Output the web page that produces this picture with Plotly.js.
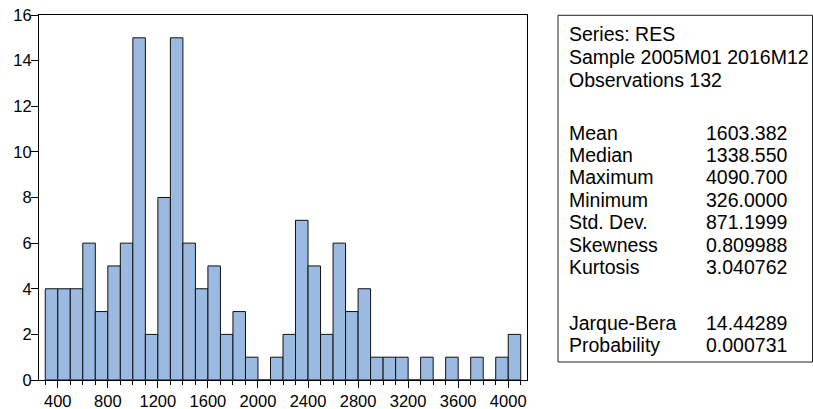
<!DOCTYPE html>
<html>
<head>
<meta charset="utf-8">
<script src="https://cdn.plot.ly/plotly-3.0.1.min.js"></script>
<style>
  html, body { margin: 0; padding: 0; background: #fff; }
  #chart { width: 813px; height: 409px; }
</style>
</head>
<body>
<div id="chart"></div>
<script>
// Histogram bins (lower edge of each 100-wide bin) and frequencies
const binLow = [300, 400, 500, 600, 700, 800, 900, 1000, 1100, 1200, 1300, 1400, 1500, 1600, 1700, 1800, 1900, 2000, 2100, 2200, 2300, 2400, 2500, 2600, 2700, 2800, 2900, 3000, 3100, 3200, 3300, 3400, 3500, 3600, 3700, 3800, 3900, 4000];
const counts = [4, 4, 4, 6, 3, 5, 6, 15, 2, 8, 15, 6, 4, 5, 2, 3, 1, 0, 1, 2, 7, 5, 2, 6, 3, 4, 1, 1, 1, 0, 1, 0, 1, 0, 1, 0, 1, 2];
const binWidth = 100;

// Tick labels
const xTickVals = [400, 800, 1200, 1600, 2000, 2400, 2800, 3200, 3600, 4000];
const xTickText = ["400", "800", "1200", "1600", "2000", "2400", "2800", "3200", "3600", "4000"];
const yTickVals = [0, 2, 4, 6, 8, 10, 12, 14, 16];
const yTickText = ["0", "2", "4", "6", "8", "10", "12", "14", "16"];

// Statistics panel
const headerLines = ["Series: RES", "Sample 2005M01 2016M12", "Observations 132"];
const statNames = ["Mean", "Median", "Maximum", "Minimum", "Std. Dev.", "Skewness", "Kurtosis"];
const statValues = ["1603.382", "1338.550", "4090.700", "326.0000", "871.1999", "0.809988", "3.040762"];
const testNames = ["Jarque-Bera", "Probability"];
const testValues = ["14.44289", "0.000731"];

// Layout geometry (pixels)
const W = 813, H = 409;
const plotL = 39, plotR = 527, plotT = 15, plotB = 380;
const pw = plotR - plotL, ph = plotB - plotT;
const px2x = px => (px - plotL) / pw;
const py2y = py => (plotB - py) / ph;

const FONT = "Arial, 'Liberation Sans', sans-serif";
const statFontSize = 19.5;
const tickFontSize = 16.5;

const annotations = [];
function addText(txt, px, py) {
  annotations.push({
    text: txt, xref: 'paper', yref: 'paper',
    x: px2x(px), y: py2y(py), xanchor: 'left', yanchor: 'middle',
    showarrow: false, borderpad: 0, borderwidth: 0,
    font: { family: FONT, size: statFontSize, color: '#000' }
  });
}
const labelX = 568.5, valueX = 705.5;
const headerY = [33.7, 57, 80];
headerLines.forEach((t, i) => addText(t, labelX, headerY[i]));
const statY = [133, 155.2, 177.3, 199.8, 222.2, 244.8, 267];
statNames.forEach((t, i) => { addText(t, labelX, statY[i]); addText(statValues[i], valueX, statY[i]); });
const testY = [323, 345.3];
testNames.forEach((t, i) => { addText(t, labelX, testY[i]); addText(testValues[i], valueX, testY[i]); });

const trace = {
  type: 'bar',
  x: binLow,
  y: counts,
  width: binWidth,
  offset: 0,
  marker: { color: 'rgb(154,186,226)', line: { color: '#111', width: 1 } },
  hoverinfo: 'x+y'
};

const layout = {
  width: W, height: H,
  margin: { l: plotL, r: W - plotR, t: plotT, b: H - plotB, pad: 0 },
  paper_bgcolor: '#fff', plot_bgcolor: '#fff',
  showlegend: false,
  bargap: 0,
  font: { family: FONT, size: tickFontSize, color: '#000' },
  xaxis: {
    range: [250, 4150],
    tickmode: 'array', tickvals: xTickVals, ticktext: xTickText,
    ticks: 'outside', ticklen: 7, tickwidth: 1, tickcolor: '#000',
    ticklabelstandoff: -1,
    minor: { dtick: 100, tick0: 0, ticks: 'outside', ticklen: 4, tickwidth: 1, tickcolor: '#000', showgrid: false },
    showline: true, linecolor: '#000', linewidth: 1, mirror: true,
    showgrid: false, zeroline: false,
    tickfont: { family: FONT, size: tickFontSize, color: '#000' }
  },
  yaxis: {
    range: [0, 16],
    tickmode: 'array', tickvals: yTickVals, ticktext: yTickText,
    ticks: 'outside', ticklen: 7, tickwidth: 1, tickcolor: '#000',
    ticklabelstandoff: -4,
    showline: true, linecolor: '#000', linewidth: 1, mirror: true,
    showgrid: false, zeroline: false,
    tickfont: { family: FONT, size: tickFontSize, color: '#000' }
  },
  shapes: [{
    type: 'rect', xref: 'paper', yref: 'paper',
    x0: px2x(558), x1: px2x(812.5), y0: py2y(362), y1: py2y(15.3),
    line: { color: '#222', width: 1 }, fillcolor: 'rgba(0,0,0,0)'
  }],
  annotations: annotations
};

Plotly.newPlot('chart', [trace], layout, { displayModeBar: false, staticPlot: true });
</script>
</body>
</html>
